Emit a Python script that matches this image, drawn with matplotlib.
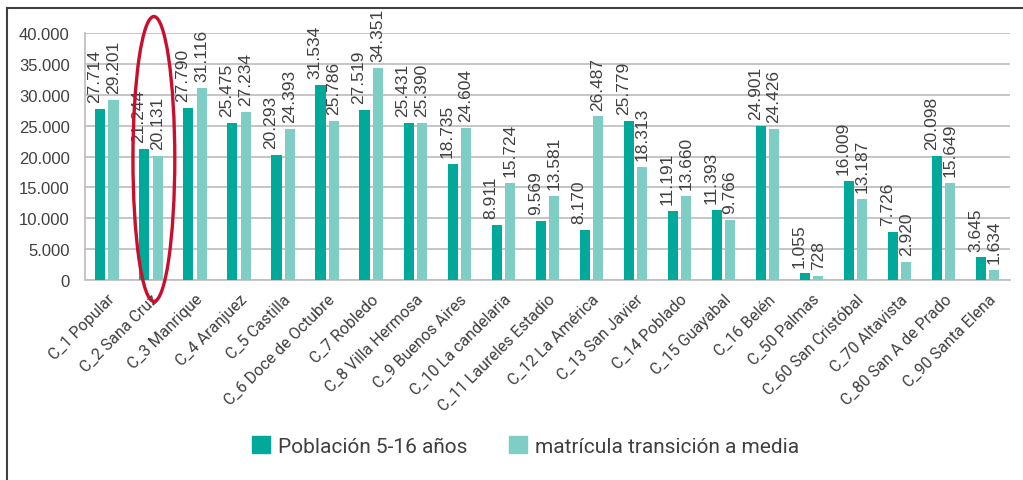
import numpy as np
import matplotlib

matplotlib.use('Agg')
import matplotlib.pyplot as plt
from matplotlib.patches import Ellipse, Patch
from matplotlib.ticker import FuncFormatter
from matplotlib.lines import Line2D

comunas = [
    "C_1 Popular", "C_2 Sana Cruz", "C_3 Manrique", "C_4 Aranjuez", "C_5 Castilla",
    "C_6 Doce de Octubre", "C_7 Robledo", "C_8 Villa Hermosa", "C_9 Buenos Aires",
    "C_10 La candelaria", "C_11 Laureles Estadio", "C_12 La América", "C_13 San Javier",
    "C_14 Poblado", "C_15 Guayabal", "C_16 Belén", "C_50 Palmas", "C_60 San Cristóbal",
    "C_70 Altavista", "C_80 San A de Prado", "C_90 Santa Elena",
]
poblacion = [27714, 21244, 27790, 25475, 20293, 31534, 27519, 25431, 18735, 8911,
             9569, 8170, 25779, 11191, 11393, 24901, 1055, 16009, 7726, 20098, 3645]
matricula = [29201, 20131, 31116, 27234, 24393, 25786, 34351, 25390, 24604, 15724,
             13581, 26487, 18313, 13660, 9766, 24426, 728, 13187, 2920, 15649, 1634]

DARK = '#00A99A'
LIGHT = '#7FCEC5'
TEXT = '#404040'

def miles(v, pos=None):
    return f"{int(v):,}".replace(",", ".")

fig = plt.figure(figsize=(10.23, 4.81), dpi=100)
ax = fig.add_axes([0.083, 0.4158, 0.904, 0.5135])

x = np.arange(len(comunas))
w = 0.23
off = 0.15
ax.bar(x - off, poblacion, w, color=DARK, zorder=3)
ax.bar(x + off, matricula, w, color=LIGHT, zorder=3)

for xi, p, m in zip(x, poblacion, matricula):
    ax.annotate(miles(p), (xi - off, p), xytext=(-4, 5), textcoords='offset points',
                rotation=90, ha='center', va='bottom', fontsize=12.5,
                family='Liberation Sans', color=TEXT, annotation_clip=False)
    ax.annotate(miles(m), (xi + off, m), xytext=(0, 5), textcoords='offset points',
                rotation=90, ha='center', va='bottom', fontsize=12.5,
                family='Liberation Sans', color=TEXT, annotation_clip=False)

ax.set_xlim(-0.5, len(comunas) - 0.5)
ax.set_ylim(0, 40000)
ax.set_yticks(np.arange(0, 40001, 5000))
ax.yaxis.set_major_formatter(FuncFormatter(miles))
ax.grid(axis='y', color='#C0C0C0', lw=1.3, zorder=0)
ax.set_xticks(x)
ax.set_xticklabels(comunas, rotation=45, ha='right', va='top', rotation_mode='anchor',
                   fontsize=11.5, family='Roboto', color=TEXT)
ax.tick_params(axis='x', length=0, pad=8)
ax.tick_params(axis='y', length=0, pad=11, labelsize=12, labelcolor=TEXT)
for lab in ax.get_yticklabels():
    lab.set_family('Liberation Sans')
for s in ['top', 'right']:
    ax.spines[s].set_visible(False)
for s in ['left', 'bottom']:
    ax.spines[s].set_color('#C0C0C0')
    ax.spines[s].set_linewidth(1.3)

# red ellipse highlighting C_2
ax.add_patch(Ellipse((1.066, 19600), 0.95, 46150, fill=False, ec='#C8102E', lw=2.4,
                     clip_on=False, zorder=5))

handles = [Patch(color=DARK), Patch(color=LIGHT)]
fig.legend(handles, ["Población 5-16 años", "matrícula transición a media"], ncol=2,
           loc='center', bbox_to_anchor=(0.514, 0.071), frameon=False,
           prop={'family': 'Roboto', 'size': 15}, labelcolor=TEXT,
           handlelength=0.85, handleheight=0.85, handletextpad=0.4, columnspacing=2.0)

# outer frame
fig.add_artist(Line2D([0.007, 0.007], [0.0, 0.982], color='#404040', lw=1.5))
fig.add_artist(Line2D([0.007, 1.0], [0.982, 0.982], color='#404040', lw=1.5))

fig.savefig('out.png', dpi=100)
